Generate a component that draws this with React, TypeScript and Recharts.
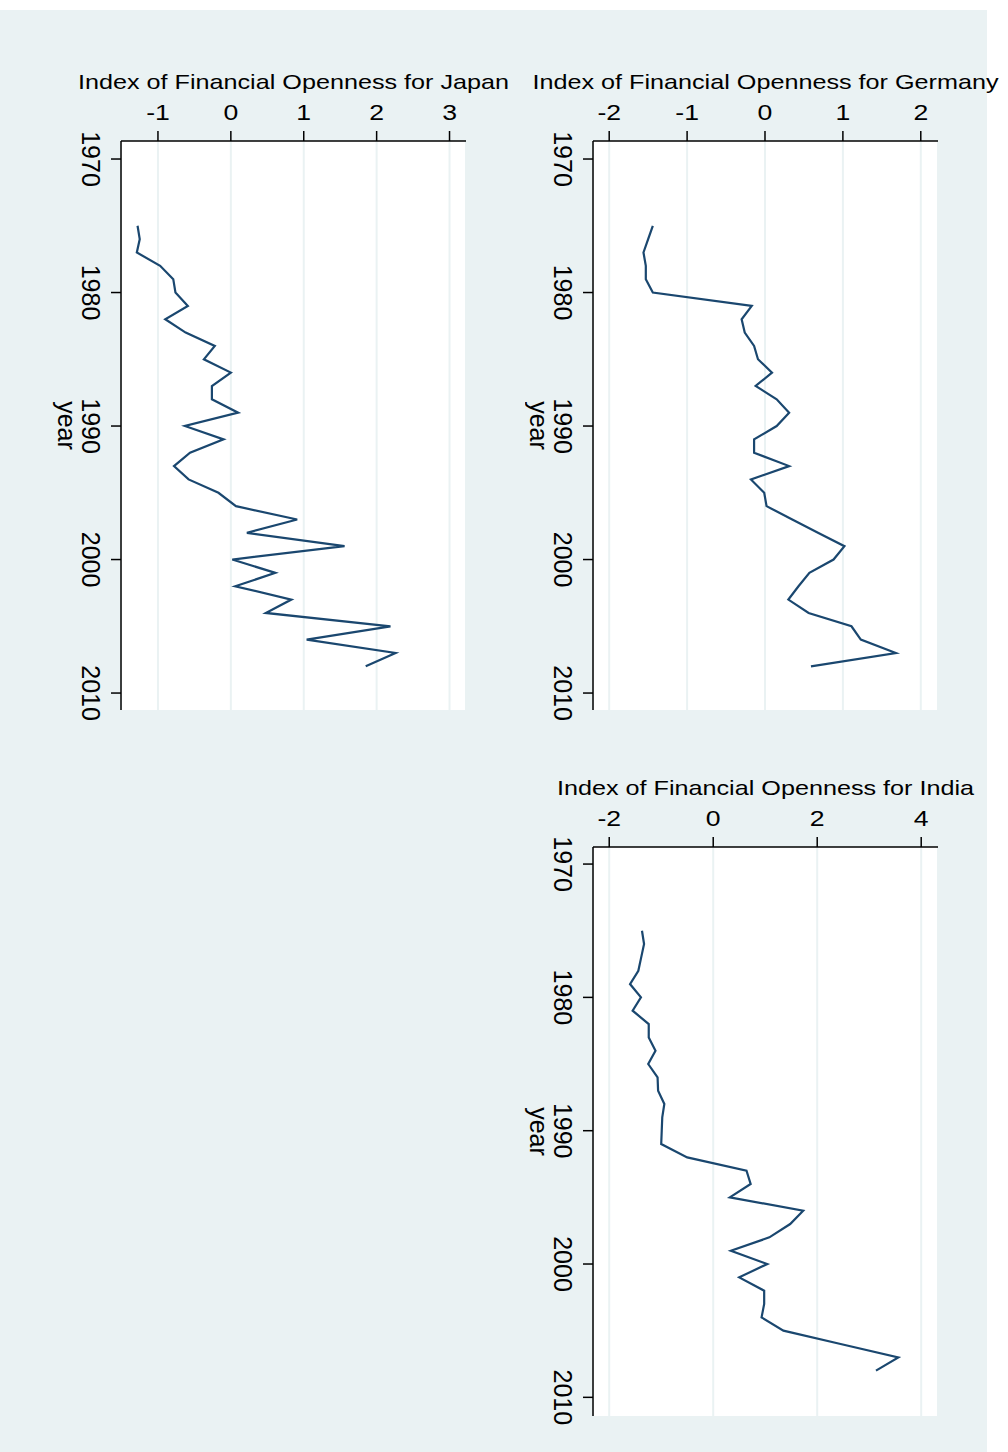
import { CartesianGrid, Line, LineChart, XAxis, YAxis } from 'recharts';

const years = [
  1975, 1976, 1977, 1978, 1979, 1980, 1981, 1982, 1983, 1984, 1985, 1986,
  1987, 1988, 1989, 1990, 1991, 1992, 1993, 1994, 1995, 1996, 1997, 1998,
  1999, 2000, 2001, 2002, 2003, 2004, 2005, 2006, 2007, 2008,
];

const japan = [
  -1.28, -1.25, -1.29, -0.97, -0.79, -0.76, -0.59, -0.9, -0.62, -0.22, -0.37, 0.0,
  -0.26, -0.26, 0.1, -0.63, -0.1, -0.56, -0.78, -0.58, -0.17, 0.07, 0.91, 0.22,
  1.56, 0.02, 0.61, 0.06, 0.83, 0.48, 2.19, 1.04, 2.26, 1.85,
];

const germany = [
  -1.44, -1.5, -1.56, -1.53, -1.53, -1.44, -0.17, -0.3, -0.26, -0.14, -0.09, 0.09,
  -0.12, 0.15, 0.31, 0.15, -0.14, -0.14, 0.31, -0.18, -0.01, 0.02, 0.35, 0.68,
  1.02, 0.88, 0.57, 0.43, 0.3, 0.56, 1.11, 1.23, 1.68, 0.59,
];

const india = [
  -1.37, -1.33, -1.385, -1.44, -1.6, -1.39, -1.55, -1.24, -1.24, -1.11, -1.25, -1.07,
  -1.06, -0.94, -0.98, -0.99, -1.0, -0.5, 0.64, 0.72, 0.32, 1.73, 1.48, 1.08,
  0.34, 1.04, 0.5, 0.98, 0.98, 0.93, 1.35, 2.45, 3.56, 3.13,
];

const yearTicks = [1970, 1980, 1990, 2000, 2010];
const japanTicks = [-1, 0, 1, 2, 3];
const germanyTicks = [-2, -1, 0, 1, 2];
const indiaTicks = [-2, 0, 2, 4];

const FONT = '"Liberation Sans", Arial, Helvetica, sans-serif';
const NAVY = '#1a476f';
const BG = '#eaf2f3';
const XAH = 40;
const YAW = 70;

function TopTick(props: any) {
  const { x, y, payload } = props;
  return (
    <text
      transform={`translate(${x},${y - 11}) scale(1.21,1)`}
      textAnchor="middle"
      fontSize={22}
      fontFamily={FONT}
      fill="#000"
    >
      {String(payload.value)}
    </text>
  );
}

function LeftTick(props: any) {
  const { x, y, payload } = props;
  return (
    <text
      transform={`translate(${x - 29},${y}) rotate(90)`}
      textAnchor="middle"
      fontSize={25}
      fontFamily={FONT}
      fill="#000"
    >
      {String(payload.value)}
    </text>
  );
}

interface PanelProps {
  title: string;
  values: number[];
  box: { left: number; top: number; width: number; height: number };
  plot: { left: number; top: number; right: number; bottom: number };
  xDomain: [number, number];
  xTicks: number[];
  yDomain: [number, number];
}

function Panel({ title, values, box, plot, xDomain, xTicks, yDomain }: PanelProps) {
  const data = years.map((year, i) => ({ year, value: values[i] }));
  const margin = {
    top: plot.top - box.top - XAH,
    left: plot.left - box.left - YAW,
    right: box.left + box.width - plot.right,
    bottom: box.top + box.height - plot.bottom,
  };
  return (
    <div style={{ position: 'absolute', left: box.left, top: box.top }}>
      <LineChart
        width={box.width}
        height={box.height}
        data={data}
        layout="vertical"
        margin={margin}
        style={{ fontFamily: FONT }}
      >
        <CartesianGrid horizontal={false} stroke={BG} strokeWidth={2} fill="#ffffff" />
        <XAxis
          type="number"
          dataKey="value"
          orientation="top"
          domain={xDomain}
          ticks={xTicks}
          allowDataOverflow
          height={XAH}
          tickSize={10}
          tickMargin={0}
          axisLine={{ stroke: '#000', strokeWidth: 1.5 }}
          tickLine={{ stroke: '#000', strokeWidth: 1.5 }}
          tick={<TopTick />}
          interval={0}
          label={{
            content: (p: any) => {
              const vb = p.viewBox;
              return (
                <text
                  transform={`translate(${vb.x + vb.width / 2},${vb.y + vb.height - 52}) scale(1.26,1)`}
                  textAnchor="middle"
                  fontSize={20}
                  fontFamily={FONT}
                  fill="#000"
                >
                  {title}
                </text>
              );
            },
          }}
        />
        <YAxis
          type="number"
          dataKey="year"
          domain={yDomain}
          ticks={yearTicks}
          allowDataOverflow
          width={YAW}
          tickSize={10}
          tickMargin={0}
          axisLine={{ stroke: '#000', strokeWidth: 1.5 }}
          tickLine={{ stroke: '#000', strokeWidth: 1.5 }}
          tick={<LeftTick />}
          interval={0}
          label={{
            content: (p: any) => {
              const vb = p.viewBox;
              return (
                <text
                  transform={`translate(${vb.x + vb.width - 63},${vb.y + vb.height / 2}) rotate(90)`}
                  textAnchor="middle"
                  fontSize={25}
                  fontFamily={FONT}
                  fill="#000"
                >
                  year
                </text>
              );
            },
          }}
        />
        <Line
          type="linear"
          dataKey="value"
          stroke={NAVY}
          strokeWidth={2.2}
          dot={false}
          activeDot={false}
          isAnimationActive={false}
        />
      </LineChart>
    </div>
  );
}

export default function App() {
  return (
    <div
      style={{
        position: 'absolute',
        left: 0,
        top: 0,
        width: 1008,
        height: 1452,
        background: '#ffffff',
        overflow: 'hidden',
      }}
    >
      <div style={{ position: 'absolute', left: 0, top: 10, width: 987, height: 1442, background: BG }} />
      <Panel
        title="Index of Financial Openness for Japan"
        values={japan}
        box={{ left: 0, top: 0, width: 525, height: 730 }}
        plot={{ left: 121, top: 141, right: 466, bottom: 710 }}
        xDomain={[-1.507, 3.226]}
        xTicks={japanTicks}
        yDomain={[1968.65, 2011.27]}
      />
      <Panel
        title="Index of Financial Openness for Germany"
        values={germany}
        box={{ left: 525, top: 0, width: 483, height: 730 }}
        plot={{ left: 593, top: 141, right: 938, bottom: 710 }}
        xDomain={[-2.208, 2.221]}
        xTicks={germanyTicks}
        yDomain={[1968.65, 2011.27]}
      />
      <Panel
        title="Index of Financial Openness for India"
        values={india}
        box={{ left: 500, top: 730, width: 508, height: 722 }}
        plot={{ left: 593, top: 847, right: 938, bottom: 1416 }}
        xDomain={[-2.312, 4.323]}
        xTicks={indiaTicks}
        yDomain={[1968.72, 2011.4]}
      />
    </div>
  );
}
